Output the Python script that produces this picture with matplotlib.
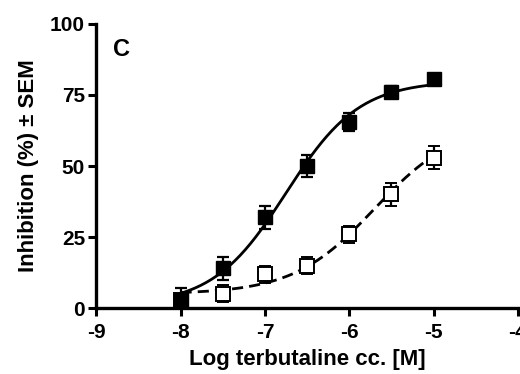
import numpy as np
import matplotlib
matplotlib.use("Agg")
import matplotlib.pyplot as plt

plt.rcParams['font.family'] = ['Liberation Sans', 'DejaVu Sans']
plt.rcParams['font.weight'] = 'bold'

log_conc = [-8, -7.5, -7, -6.5, -6, -5.5, -5]
filled_vals = [3, 14, 32, 50, 65.5, 76, 80.5]
filled_err = [4, 4, 4, 4, 3, 2, 2]
open_vals = [3, 5, 12, 15, 26, 40, 53]
open_err = [2, 3, 3, 3, 3, 4, 4]

# fitted sigmoid parameters (bottom, top, logEC50, hill)
fit_filled = (1, 80, -6.75, 1.0)
fit_open = (5, 65, -5.7, 0.9)

xticks = [-9, -8, -7, -6, -5, -4]
yticks = [0, 25, 50, 75, 100]

def sig(x, p):
    b, t, ec, h = p
    return b + (t - b) / (1 + 10 ** ((ec - x) * h))

fig = plt.figure(figsize=(5.2, 3.74), dpi=100)
ax = fig.add_axes([0.185, 0.176, 0.811, 0.76])

xs = np.linspace(-8, -5, 200)
ax.plot(xs, sig(xs, fit_filled), color='black', lw=2.0, zorder=2)
ax.plot(xs, sig(xs, fit_open), color='black', lw=2.0, ls=(0, (4, 2.2)), zorder=2)

ax.errorbar(log_conc, open_vals, yerr=open_err, fmt='s', ms=9.5, mfc='white', mec='black',
            mew=1.4, ecolor='black', elinewidth=1.6, capsize=4.5, capthick=1.6, zorder=3)
ax.errorbar(log_conc, filled_vals, yerr=filled_err, fmt='s', ms=9.5, mfc='black', mec='black',
            ecolor='black', elinewidth=1.6, capsize=4.5, capthick=1.6, zorder=4)

ax.set_xlim(-9, -4)
ax.set_ylim(0, 100)
ax.set_xticks(xticks)
ax.set_yticks(yticks)
ax.set_xticklabels([str(t) for t in xticks])
ax.set_yticklabels([str(t) for t in yticks])
for s in ['top', 'right']:
    ax.spines[s].set_visible(False)
for s in ['left', 'bottom']:
    ax.spines[s].set_linewidth(2.4)
ax.tick_params(width=2.2, length=6, labelsize=15, pad=2)
ax.tick_params(axis='x', pad=5)
for lab in ax.get_xticklabels() + ax.get_yticklabels():
    lab.set_fontweight('bold')

ax.set_xlabel('Log terbutaline cc. [M]', fontsize=16, fontweight='bold', labelpad=5)
ax.set_ylabel('Inhibition (%) \u00b1 SEM', fontsize=16, fontweight='bold', labelpad=8)
ax.text(0.04, 0.95, 'C', transform=ax.transAxes, fontsize=17, fontweight='bold', va='top')

fig.savefig('out.png', dpi=100)
